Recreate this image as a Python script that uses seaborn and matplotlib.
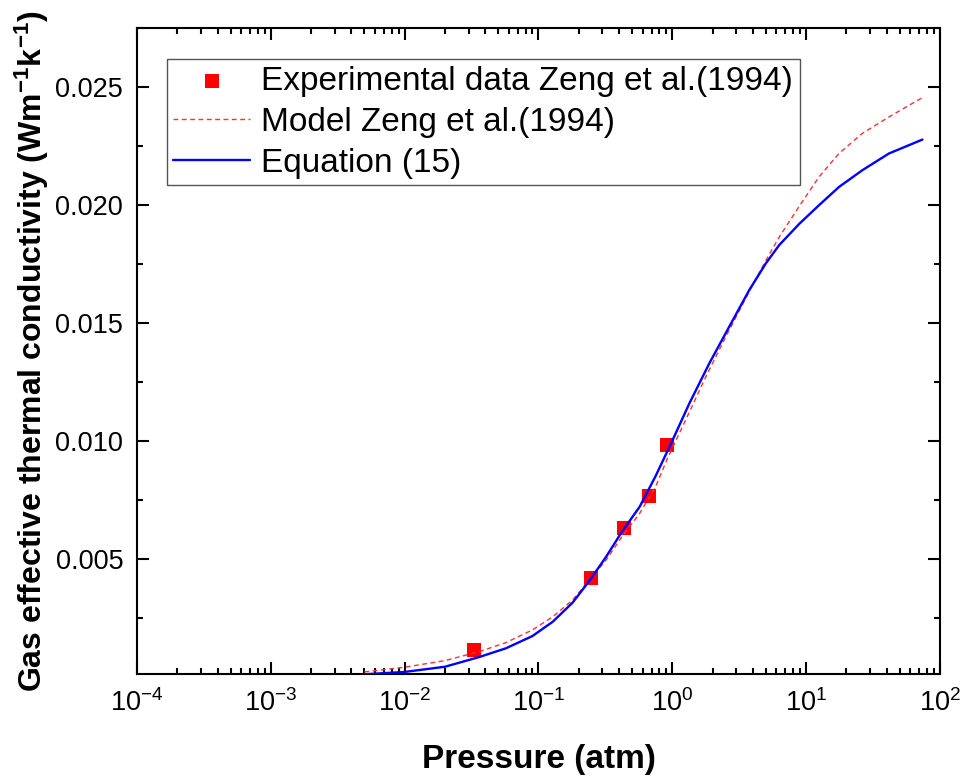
import numpy as np
import pandas as pd
import matplotlib
matplotlib.use("Agg")
import matplotlib.pyplot as plt
from matplotlib.ticker import LogLocator, FixedLocator, NullFormatter, FuncFormatter
import seaborn as sns

# ---------------- data ----------------
exp_pressure = [0.033, 0.247, 0.438, 0.665, 0.913]
exp_k = [0.00113, 0.00417, 0.00629, 0.00766, 0.00982]

model_pressure = [0.005, 0.01, 0.02, 0.036, 0.057, 0.09, 0.128, 0.18, 0.24, 0.32,
                  0.42, 0.57, 0.75, 0.92, 1.19, 1.78, 2.51, 3.98, 5.3, 6.3, 8.9,
                  12.5, 17.6, 26.3, 41.6, 74.0]
model_k = [0.0002, 0.0004, 0.00068, 0.00106, 0.00144, 0.00198, 0.00254, 0.00325, 0.0041, 0.00494,
           0.00593, 0.00692, 0.00805, 0.00925, 0.01059, 0.01271, 0.01441, 0.0166, 0.0179, 0.01864,
           0.01995, 0.02119, 0.02218, 0.02303, 0.02373, 0.02455]

eq_pressure = [0.005, 0.01, 0.02, 0.036, 0.057, 0.09, 0.128, 0.18, 0.24, 0.32,
               0.42, 0.57, 0.75, 1.0, 1.34, 1.89, 2.66, 3.76, 5.0, 6.3, 8.9,
               12.5, 17.6, 26.3, 41.6, 74.0]
eq_k = [0.0001, 0.0002, 0.00042, 0.00083, 0.0012, 0.00172, 0.00233, 0.00314, 0.00406, 0.00508,
        0.00614, 0.0072, 0.0085, 0.0100, 0.01158, 0.01328, 0.01483, 0.01639, 0.01752, 0.0183,
        0.0192, 0.01999, 0.02076, 0.02147, 0.02218, 0.02277]

labels = ["Experimental data Zeng et al.(1994)", "Model Zeng et al.(1994)", "Equation (15)"]
y_ticks = [0.005, 0.010, 0.015, 0.020, 0.025]
x_ticks = [1e-4, 1e-3, 1e-2, 1e-1, 1e0, 1e1, 1e2]

# ---------------- style ----------------
sns.set_theme(style="ticks")
plt.rcParams["font.family"] = ["Liberation Sans", "DejaVu Sans"]
plt.rcParams["mathtext.fontset"] = "custom"
plt.rcParams["mathtext.rm"] = "Liberation Sans"
plt.rcParams["mathtext.it"] = "Liberation Sans:italic"
plt.rcParams["mathtext.bf"] = "Liberation Sans:bold"
plt.rcParams["text.color"] = "black"
plt.rcParams["axes.labelcolor"] = "black"
plt.rcParams["xtick.color"] = "black"
plt.rcParams["ytick.color"] = "black"

fig = plt.figure(figsize=(9.67, 7.78), dpi=100)
ax = fig.add_axes([0.1417, 0.1333, 0.8303, 0.8307])

df_exp = pd.DataFrame({"p": exp_pressure, "k": exp_k})
df_model = pd.DataFrame({"p": model_pressure, "k": model_k})
df_eq = pd.DataFrame({"p": eq_pressure, "k": eq_k})

sns.scatterplot(data=df_exp, x="p", y="k", ax=ax, marker="s", s=100, color="#ff0000",
                edgecolor="none", linewidth=0, label=labels[0], zorder=2)
sns.lineplot(data=df_model, x="p", y="k", ax=ax, color="#ff3030", linewidth=1.0,
             linestyle=(0, (3.5, 2.5)), label=labels[1], zorder=3)
sns.lineplot(data=df_eq, x="p", y="k", ax=ax, color="#0000ff", linewidth=1.7,
             label=labels[2], zorder=4)

ax.set_xscale("log")
ax.set_xlim(1e-4, 1e2)
ax.set_ylim(0.0001, 0.0275)

ax.xaxis.set_major_locator(FixedLocator(x_ticks))
ax.xaxis.set_minor_locator(LogLocator(base=10, subs=np.arange(2, 10), numticks=20))
ax.xaxis.set_minor_formatter(NullFormatter())
ax.xaxis.set_major_formatter(FuncFormatter(lambda v, pos: r"$10^{%d}$" % int(round(np.log10(v)))))

ax.yaxis.set_major_locator(FixedLocator(y_ticks))
ax.yaxis.set_minor_locator(FixedLocator([0.0025, 0.0075, 0.0125, 0.0175, 0.0225, 0.0275]))
ax.yaxis.set_major_formatter(FuncFormatter(lambda v, pos: "%.3f" % v))

for s in ax.spines.values():
    s.set_linewidth(1.5)
    s.set_color("black")
    s.set_visible(True)

ax.tick_params(axis="both", which="major", direction="in", length=8.6, width=1.5,
               top=True, right=True, labelsize=19.5, pad=10, colors="black")
ax.tick_params(axis="both", which="minor", direction="in", length=4.3, width=1.5,
               top=True, right=True)
ax.tick_params(axis="x", which="major", pad=11)

ax.set_xlabel("Pressure (atm)", fontsize=24, fontweight="bold", labelpad=19)
ax.set_ylabel(r"Gas effective thermal conductivity (Wm$^{\mathbf{-1}}$k$^{\mathbf{-1}}$)",
              fontsize=23, fontweight="bold", labelpad=3)

leg = ax.legend(loc="upper left", bbox_to_anchor=(0.037, 0.952), borderaxespad=0,
                fontsize=24, frameon=True, fancybox=False, framealpha=1,
                edgecolor="#555555", handlelength=2.3, handletextpad=0.33,
                labelspacing=0.3, borderpad=0.2, markerscale=1.0)
leg.get_frame().set_linewidth(1.0)

fig.savefig("out.png", dpi=100)
